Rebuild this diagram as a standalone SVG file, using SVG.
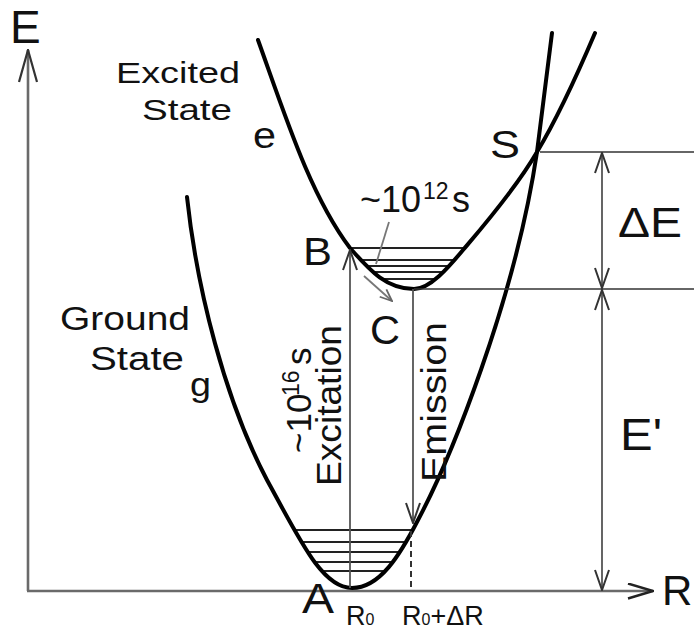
<svg xmlns="http://www.w3.org/2000/svg" width="694" height="630" viewBox="0 0 694 630">
<style>
text{font-family:"Liberation Sans",Arial,sans-serif;fill:#111}
.curve{fill:none;stroke:#000;stroke-width:4;stroke-linejoin:round;stroke-linecap:round}
.axis{fill:none;stroke:#6a6a6a;stroke-width:2.6}
.thin{fill:none;stroke:#333;stroke-width:1.6}
.lvl{stroke:#222;stroke-width:2.2}
.arr{fill:none;stroke:#555;stroke-width:1.8}
.gray{fill:none;stroke:#777;stroke-width:1.8}
</style>
<defs>
<marker id="head" viewBox="0 0 22 16" refX="21" refY="8" markerWidth="22" markerHeight="16" markerUnits="userSpaceOnUse" orient="auto-start-reverse"><path d="M1,1 L21,8 L1,15" fill="none" stroke="#333" stroke-width="2"/></marker>
<marker id="headE" viewBox="0 0 34 20" refX="33" refY="10" markerWidth="34" markerHeight="20" markerUnits="userSpaceOnUse" orient="auto"><path d="M1,1 L33,10 L1,19" fill="none" stroke="#333" stroke-width="2.2"/></marker>
<marker id="headR" viewBox="0 0 27 17" refX="26" refY="8.5" markerWidth="27" markerHeight="17" markerUnits="userSpaceOnUse" orient="auto"><path d="M1,1 L26,8.5 L1,16" fill="none" stroke="#222" stroke-width="2.4"/></marker>
<marker id="headS" viewBox="0 0 14 12" refX="13" refY="6" markerWidth="14" markerHeight="12" markerUnits="userSpaceOnUse" orient="auto"><path d="M1,1 L13,6 L1,11" fill="none" stroke="#666" stroke-width="1.8"/></marker>
<clipPath id="clipE"><path d="M258,40 C285,115 310,195 350,248 C368,268 385,289 414,289 C430,289 448,268 463,250 C480,230 515,190 537,152 C555,122 575,80 595,33 Z"/></clipPath>
<clipPath id="clipG"><path d="M187,197 C197,290 225,400 267,480 C300,540 322,588 352,588 C380,588 400,555 418,520 C450,460 515,300 537,152 C542,115 547,75 552,33 Z"/></clipPath>
</defs>
<rect width="694" height="630" fill="#fff"/>

<g id="axes">
<line class="axis" x1="28" y1="591" x2="28" y2="50" marker-end="url(#headE)"/>
<line class="axis" x1="27" y1="591" x2="653" y2="591" marker-end="url(#headR)"/>
<text x="10" y="43" font-size="46">E</text>
<text x="662" y="605" font-size="42">R</text>
</g>

<g id="vibrational-levels">
<g clip-path="url(#clipE)">
<line class="lvl" x1="300" y1="248" x2="560" y2="248"/>
<line class="lvl" x1="300" y1="260" x2="560" y2="260"/>
<line class="lvl" x1="300" y1="266" x2="560" y2="266"/>
<line class="lvl" x1="300" y1="272" x2="560" y2="272"/>
<line class="lvl" x1="300" y1="279" x2="560" y2="279"/>
</g>
<g clip-path="url(#clipG)">
<line class="lvl" x1="250" y1="530" x2="460" y2="530" stroke-width="2.6"/>
<line class="lvl" x1="250" y1="542" x2="460" y2="542" stroke-width="2.6"/>
<line class="lvl" x1="250" y1="552" x2="460" y2="552" stroke-width="2.6"/>
<line class="lvl" x1="250" y1="562" x2="460" y2="562" stroke-width="2.6"/>
<line class="lvl" x1="250" y1="571" x2="460" y2="571" stroke-width="2.6"/>
</g>
</g>

<g id="excited-state">
<path class="curve" d="M258,40 C285,115 310,195 350,248 C368,268 385,289 414,289 C430,289 448,268 463,250 C480,230 515,190 537,152 C555,122 575,80 595,33"/>
<text x="116" y="83" font-size="29" textLength="124" lengthAdjust="spacingAndGlyphs">Excited</text>
<text x="142" y="120" font-size="29" textLength="90" lengthAdjust="spacingAndGlyphs">State</text>
<text x="253" y="148" font-size="36" textLength="23" lengthAdjust="spacingAndGlyphs">e</text>
</g>

<g id="ground-state">
<path class="curve" d="M187,197 C197,290 225,400 267,480 C300,540 322,588 352,588 C380,588 400,555 418,520 C450,460 515,300 537,152 C542,115 547,75 552,33"/>
<text x="60" y="330" font-size="33" textLength="130" lengthAdjust="spacingAndGlyphs">Ground</text>
<text x="90" y="370" font-size="33" textLength="94" lengthAdjust="spacingAndGlyphs">State</text>
<text x="190" y="396" font-size="34" textLength="21" lengthAdjust="spacingAndGlyphs">g</text>
</g>

<g id="connectors">
<line class="thin" x1="540" y1="152" x2="694" y2="152"/>
<line class="thin" x1="414" y1="289" x2="694" y2="289"/>
<line class="arr" x1="602" y1="153" x2="602" y2="288" marker-start="url(#head)" marker-end="url(#head)"/>
<line class="arr" x1="602" y1="290" x2="602" y2="590" marker-start="url(#head)" marker-end="url(#head)"/>
<line class="arr" x1="350" y1="588" x2="350" y2="250" marker-end="url(#head)"/>
<line class="arr" x1="413" y1="289" x2="413" y2="523" marker-end="url(#head)"/>
<line x1="411" y1="531" x2="411" y2="590" stroke="#333" stroke-width="2" stroke-dasharray="6,4"/>
<line class="gray" x1="389" y1="222" x2="376" y2="264" stroke-width="1.4"/>
<line class="gray" x1="364" y1="276" x2="392" y2="301" stroke-width="2.2" marker-end="url(#headS)"/>
</g>

<g id="labels">
<text x="303" y="265" font-size="38" textLength="29" lengthAdjust="spacingAndGlyphs">B</text>
<text x="370" y="344" font-size="40" textLength="30" lengthAdjust="spacingAndGlyphs">C</text>
<text x="490" y="158" font-size="38" textLength="30" lengthAdjust="spacingAndGlyphs">S</text>
<text x="302" y="613" font-size="42" textLength="32" lengthAdjust="spacingAndGlyphs">A</text>
<text x="618" y="237" font-size="42" textLength="64" lengthAdjust="spacingAndGlyphs">ΔE</text>
<text x="620" y="450" font-size="44" textLength="42" lengthAdjust="spacingAndGlyphs">E'</text>
<text x="360" y="212" font-size="36">~10<tspan x="423" y="199" font-size="23">12</tspan><tspan x="452" y="212">s</tspan></text>
<text transform="translate(311,453) rotate(-90)" font-size="35">~10<tspan x="57" y="-12" font-size="23">16</tspan><tspan x="88" y="0">s</tspan></text>
<text transform="translate(341,486) rotate(-90)" font-size="35" textLength="161" lengthAdjust="spacingAndGlyphs">Excitation</text>
<text transform="translate(446,482) rotate(-90)" font-size="35" textLength="160" lengthAdjust="spacingAndGlyphs">Emission</text>
<text x="346" y="625" font-size="27">R<tspan font-size="16">0</tspan></text>
<text x="402" y="625" font-size="27">R<tspan font-size="16">0</tspan>+ΔR</text>
</g>
</svg>
